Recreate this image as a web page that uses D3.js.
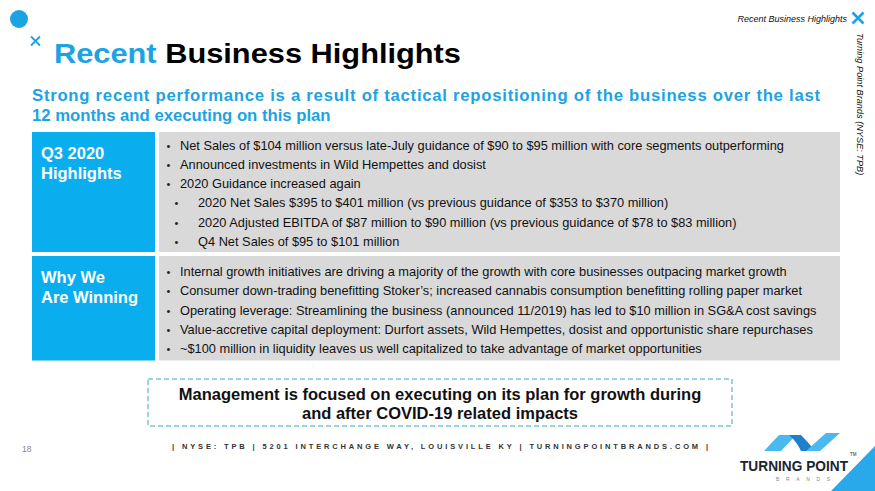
<!DOCTYPE html>
<html>
<head>
<meta charset="utf-8">
<script src="https://cdn.jsdelivr.net/npm/d3@7"></script>
<style>
  html, body { margin: 0; padding: 0; background: #fff; }
  svg { display: block; font-family: "Liberation Sans", Arial, sans-serif; }
</style>
</head>
<body>
<div id="slide"></div>
<script>
// slide content
var titleParts = ["Recent", " Business Highlights"];
var subtitleLines = [
  "Strong recent performance is a result of tactical repositioning of the business over the last",
  "12 months and executing on this plan"
];
var rowLabels = [["Q3 2020", "Highlights"], ["Why We", "Are Winning"]];
var q3Bullets = [
  "Net Sales of $104 million versus late-July guidance of $90 to $95 million with core segments outperforming",
  "Announced investments in Wild Hempettes and dosist",
  "2020 Guidance increased again",
  "2020 Net Sales $395 to $401 million (vs previous guidance of $353 to $370 million)",
  "2020 Adjusted EBITDA of $87 million to $90 million (vs previous guidance of $78 to $83 million)",
  "Q4 Net Sales of $95 to $101 million"
];
var q3Levels = [0, 0, 0, 1, 1, 1];
var winBullets = [
  "Internal growth initiatives are driving a majority of the growth with core businesses outpacing market growth",
  "Consumer down-trading benefitting Stoker\u2019s; increased cannabis consumption benefitting rolling paper market",
  "Operating leverage: Streamlining the business (announced 11/2019) has led to $10 million in SG&A cost savings",
  "Value-accretive capital deployment: Durfort assets, Wild Hempettes, dosist and opportunistic share repurchases",
  "~$100 million in liquidity leaves us well capitalized to take advantage of market opportunities"
];
var winLevels = [0, 0, 0, 0, 0];
var calloutLines = [
  "Management is focused on executing on its plan for growth during",
  "and after COVID-19 related impacts"
];
var footerText = "|  NYSE: TPB  |  5201 INTERCHANGE WAY, LOUISVILLE KY  |  TURNINGPOINTBRANDS.COM  |";
var pageNumber = "18";

var width = 875, height = 491;
var blue = "#0aaeef", titleBlue = "#1ba3e3", grey = "#d9d9d9";

var svg = d3.select("#slide").append("svg")
  .attr("width", width).attr("height", height);

// corner decorations
svg.append("circle").attr("cx", 19).attr("cy", 19).attr("r", 9).attr("fill", titleBlue);

function cross(g, cx, cy, s, w) {
  g.append("path")
    .attr("d", "M" + (cx - s) + "," + (cy - s) + "L" + (cx + s) + "," + (cy + s) +
               "M" + (cx + s) + "," + (cy - s) + "L" + (cx - s) + "," + (cy + s))
    .attr("stroke", titleBlue).attr("stroke-width", w).attr("fill", "none");
}
cross(svg, 35.5, 41, 4.5, 1.8);
cross(svg, 858, 18, 5.5, 2.6);

// title
var title = svg.append("text").attr("x", 54).attr("y", 62.5)
  .attr("font-size", 28).attr("font-weight", "bold")
  .attr("textLength", 407).attr("lengthAdjust", "spacingAndGlyphs");
title.selectAll("tspan").data(titleParts).enter().append("tspan")
  .attr("fill", function (d, i) { return i === 0 ? titleBlue : "#000"; })
  .text(function (d) { return d; });

// first subtitle line is justified to the box width
svg.selectAll("text.sub").data(subtitleLines).enter().append("text")
  .attr("class", "sub")
  .attr("x", 32).attr("y", function (d, i) { return 100.5 + i * 20; })
  .attr("font-size", 16.7).attr("font-weight", "bold").attr("fill", titleBlue)
  .attr("textLength", function (d, i) { return i === 0 ? 788 : null; })
  .attr("lengthAdjust", "spacing")
  .text(function (d) { return d; });

// header on the right
svg.append("text").attr("x", 847).attr("y", 21.5).attr("text-anchor", "end")
  .attr("font-size", 9).attr("font-style", "italic").attr("fill", "#111")
  .text("Recent Business Highlights");
svg.append("text").attr("transform", "translate(857,33) rotate(90)")
  .attr("font-size", 9.2).attr("font-style", "italic").attr("fill", "#111")
  .text("Turning Point Brands (NYSE: TPB)");

// table rows
var rows = [
  { label: rowLabels[0], bullets: q3Bullets, levels: q3Levels, top: 132, h: 120, first: 149.5 },
  { label: rowLabels[1], bullets: winBullets, levels: winLevels, top: 256, h: 104.5, first: 276 }
];
var lineStep = 19.3;

var rowG = svg.selectAll("g.row").data(rows).enter().append("g").attr("class", "row");

rowG.append("rect").attr("x", 32).attr("y", function (d) { return d.top; })
  .attr("width", 123).attr("height", function (d) { return d.h; }).attr("fill", blue);
rowG.append("rect").attr("x", 159).attr("y", function (d) { return d.top; })
  .attr("width", 681).attr("height", function (d) { return d.h; }).attr("fill", grey);

rowG.each(function (row) {
  var g = d3.select(this);
  var lineY = d3.scaleLinear().domain([0, 1]).range([row.first, row.first + lineStep]);
  var indent = d3.scaleOrdinal().domain([0, 1]).range([180, 198]);
  var dotX = d3.scaleOrdinal().domain([0, 1]).range([168.5, 176.5]);

  g.selectAll("text.lab").data(row.label).enter().append("text")
    .attr("class", "lab")
    .attr("x", 41).attr("y", function (d, i) { return row.top + 27 + i * 20; })
    .attr("font-size", 16.5).attr("font-weight", "bold").attr("fill", "#fff")
    .text(function (d) { return d; });

  var items = row.bullets.map(function (t, i) { return { text: t, level: row.levels[i], i: i }; });
  g.selectAll("text.dot").data(items).enter().append("text")
    .attr("class", "dot")
    .attr("x", function (d) { return dotX(d.level); })
    .attr("y", function (d) { return lineY(d.i); })
    .attr("text-anchor", "middle")
    .attr("font-size", 11).attr("fill", "#222").text("\u2022");
  g.selectAll("text.item").data(items).enter().append("text")
    .attr("class", "item")
    .attr("x", function (d) { return indent(d.level); })
    .attr("y", function (d) { return lineY(d.i); })
    .attr("font-size", 12.8).attr("fill", "#111")
    .text(function (d) { return d.text; });
});

// callout box
svg.append("rect").attr("x", 148).attr("y", 379).attr("width", 584).attr("height", 47)
  .attr("fill", "none").attr("stroke", "#3aa8b8").attr("stroke-width", 1)
  .attr("stroke-dasharray", "5,3");
svg.selectAll("text.callout").data(calloutLines).enter().append("text")
  .attr("class", "callout")
  .attr("x", 440).attr("y", function (d, i) { return 399.5 + i * 19.5; })
  .attr("text-anchor", "middle")
  .attr("font-size", 16.5).attr("font-weight", "bold").attr("fill", "#111")
  .text(function (d) { return d; });

// footer
svg.append("text").attr("x", 22).attr("y", 452).attr("font-size", 8.5)
  .attr("fill", "#888")
  .text(pageNumber);
svg.append("text").attr("x", 172).attr("y", 448.5).attr("font-size", 7.5)
  .attr("font-weight", "bold").attr("fill", "#333")
  .attr("textLength", 536).attr("lengthAdjust", "spacing")
  .text(footerText);

// logo
var logo = svg.append("g");
logo.append("path").attr("d", "M764,451L779,435L796,435L781,451Z").attr("fill", "#4bb9ef");
logo.append("path").attr("d", "M789,435L801,435Q808,442 815,451L801,451Q797,442 789,435Z").attr("fill", "#1e7fcf");
logo.append("path").attr("d", "M806,451L820,451L840,433L826,433Z").attr("fill", "#4bb9ef");
logo.append("text").attr("x", 740).attr("y", 471).attr("font-size", 14.5)
  .attr("font-weight", "bold").attr("fill", "#1c2430")
  .attr("textLength", 108).attr("lengthAdjust", "spacingAndGlyphs")
  .text("TURNING POINT");
logo.append("text").attr("x", 850).attr("y", 455.5).attr("font-size", 4.5)
  .attr("fill", "#1c2430").text("TM");
logo.append("text").attr("x", 776).attr("y", 481).attr("font-size", 5).attr("fill", "#888")
  .attr("textLength", 54).attr("lengthAdjust", "spacing").text("BRANDS");
svg.append("path").attr("d", "M875,446L875,491L831,491Z").attr("fill", "#2aa9ea");
</script>
</body>
</html>
